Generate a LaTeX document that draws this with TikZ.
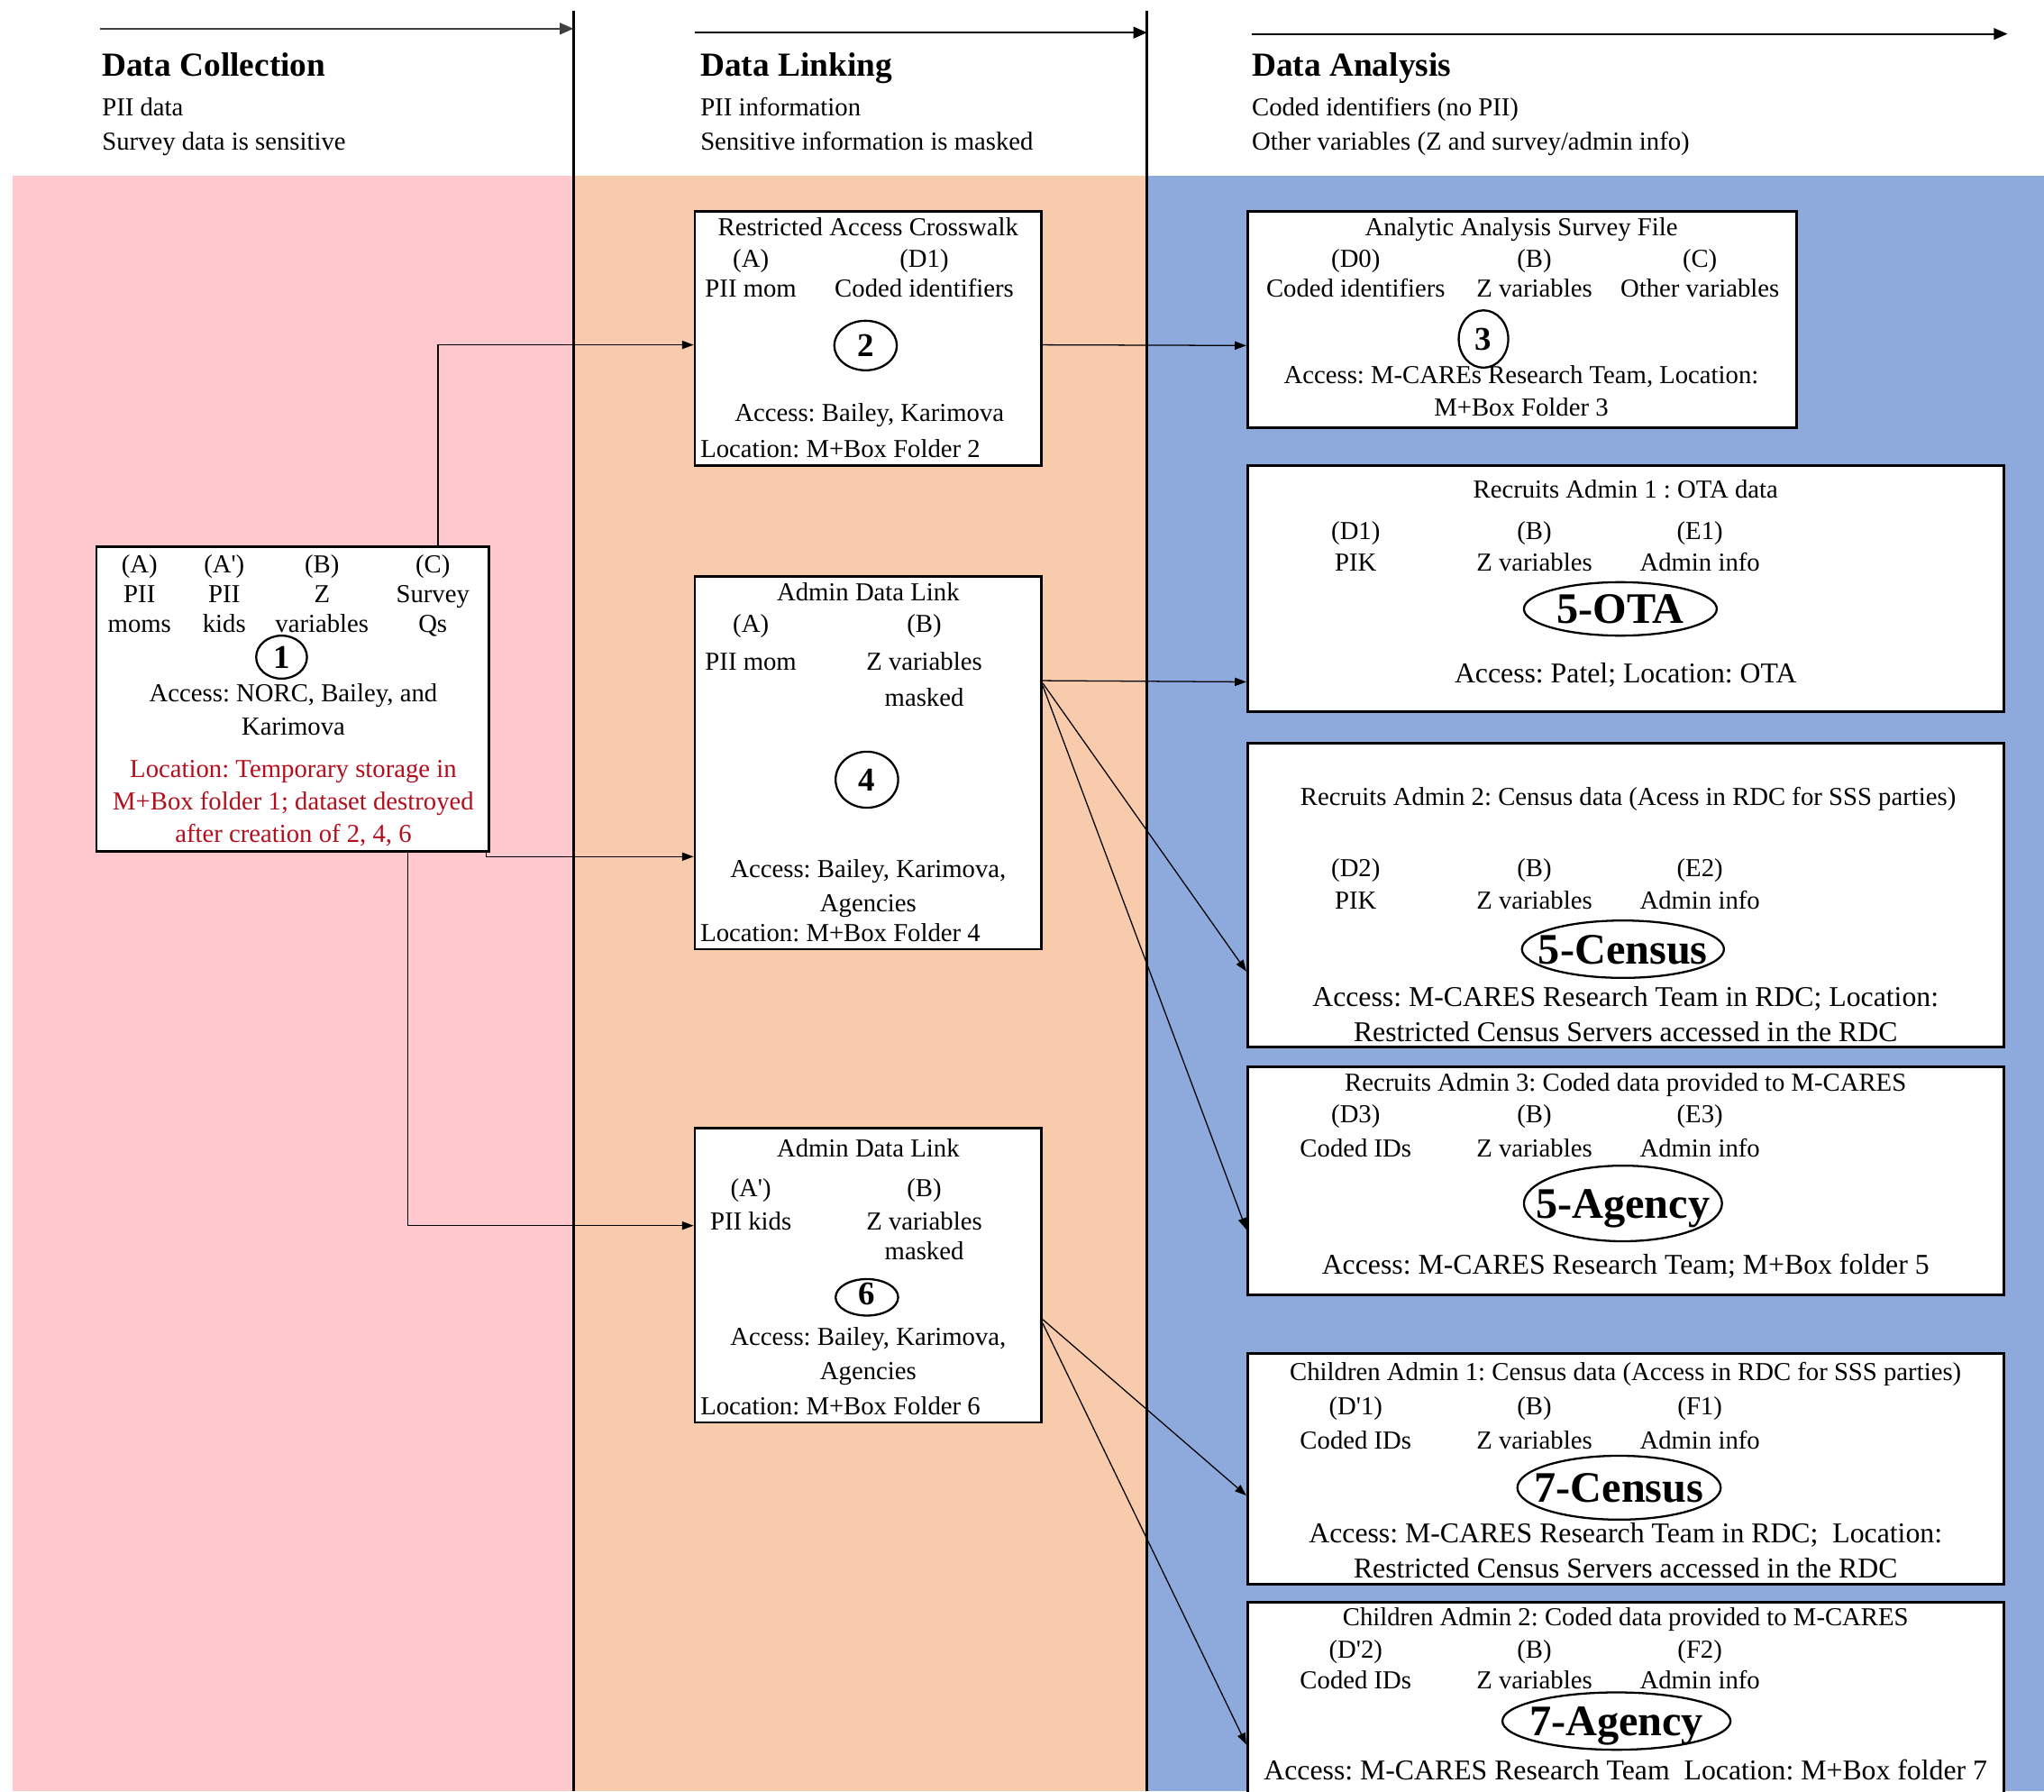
\documentclass[tikz,border=0pt]{standalone}
\usepackage{fontspec}
\setmainfont{Liberation Serif}
\usetikzlibrary{arrows.meta,shapes.geometric}
\frenchspacing

\definecolor{pinkbg}{RGB}{255,199,206}
\definecolor{peachbg}{RGB}{248,203,173}
\definecolor{bluebg}{RGB}{142,169,219}
\definecolor{locred}{RGB}{178,14,28}

\tikzset{
  txt/.style={inner sep=0pt, anchor=base, yshift=-0.04cm, font=\fontsize{11.3}{14}\selectfont},
  txtl/.style={txt, anchor=base west},
  txtw/.style={txt, font=\fontsize{12.5}{15}\selectfont},
  head/.style={inner sep=0pt, anchor=base west, yshift=-0.03cm, font=\fontsize{14.7}{17}\selectfont\bfseries},
  num/.style={inner sep=0pt, text height=9.9pt, text depth=0pt, font=\fontsize{14.5}{16}\selectfont\bfseries},
  big/.style={inner sep=0pt, text height=12.9pt, text depth=0pt, font=\fontsize{19}{22}\selectfont\bfseries},
  databox/.style={draw, line width=1.1pt, fill=white, inner sep=0pt},
  oval/.style={draw, ellipse, line width=0.9pt, inner sep=0pt},
  link/.style={-{Triangle[length=5pt,width=3.6pt]}, line width=0.5pt},
  phase/.style={-{Triangle[length=6pt,width=5pt]}, line width=0.8pt},
}

\begin{document}
\begin{tikzpicture}[x=0.02cm, y=-0.02cm]
            \useasboundingbox (0,0) rectangle (1568,1374);
            \clip (0,0) rectangle (1568,1374);

            % Achtergrond van de drie fasen
            \fill[pinkbg] (10,135) rectangle (440,1374);
            \fill[peachbg] (440,135) rectangle (880,1374);
            \fill[bluebg] (880,135) rectangle (1568,1374);
            \draw[line width=1.2pt] (440,8) -- (440,1374);
            \draw[line width=1.2pt] (880,8) -- (880,1374);

            % Fase-pijlen en koppen
            \coordinate (p1a) at (77,22);
            \coordinate (p1b) at (440,22);
            \coordinate (p2a) at (533,25);
            \coordinate (p2b) at (880,25);
            \coordinate (p3a) at (960,26);
            \coordinate (p3b) at (1540,26);
            \draw[phase, black!75] (p1a) -- (p1b);
            \draw[phase] (p2a) -- (p2b);
            \draw[phase] (p3a) -- (p3b);

            \node[head] (h1) at (78,57) {Data Collection};
            \node[txtl] (h1a) at (78,87) {PII data};
            \node[txtl] (h1b) at (78,113) {Survey data is sensitive};
            \node[head] (h2) at (537,57) {Data Linking};
            \node[txtl] (h2a) at (537,87) {PII information};
            \node[txtl] (h2b) at (537,113) {Sensitive information is masked};
            \node[head] (h3) at (960,57) {Data Analysis};
            \node[txtl] (h3a) at (960,87) {Coded identifiers (no PII)};
            \node[txtl] (h3b) at (960,113) {Other variables (Z and survey/admin info)};

            % Kaders
            \node[databox, minimum width=6.02cm, minimum height=4.68cm] (b1) at (224.5,536) {};
            \node[databox, minimum width=5.32cm, minimum height=3.9cm] (b2) at (666,259.5) {};
            \node[databox, minimum width=8.42cm, minimum height=3.32cm] (b3) at (1167.5,245) {};
            \node[databox, minimum width=5.32cm, minimum height=5.72cm] (b4) at (666,585) {};
            \node[databox, minimum width=5.32cm, minimum height=4.52cm] (b6) at (666,978) {};
            \node[databox, minimum width=11.6cm, minimum height=3.78cm] (b5o) at (1247,451.5) {};
            \node[databox, minimum width=11.6cm, minimum height=4.66cm] (b5c) at (1247,686.5) {};
            \node[databox, minimum width=11.6cm, minimum height=3.5cm] (b5a) at (1247,905.5) {};
            \node[databox, minimum width=11.6cm, minimum height=3.54cm] (b7c) at (1247,1126.5) {};
            \node[databox, minimum width=11.6cm, minimum height=3.42cm] (b7a) at (1247,1314.5) {};

            % Kader 1: verzameling
            \foreach \x/\k/\la/\lb/\lc in {107/a/A/PII/moms, 172/b/A\textquotesingle/PII/kids, 247/c/B/Z/variables, 332/d/C/Survey/Qs} {
              \node[txt] (b1-\k1) at (\x,437) {(\la)};
              \node[txt] (b1-\k2) at (\x,460) {\lb};
              \node[txt] (b1-\k3) at (\x,483) {\lc};
            }
            \node[oval, minimum width=0.78cm, minimum height=0.66cm] (c1) at (216,504) {};
            \node[num] (c1-t) at (c1) {1};
            \node[txt] (b1-acc1) at (225,536) {Access: NORC, Bailey, and};
            \node[txt] (b1-acc2) at (225,562) {Karimova};
            \node[txt, locred] (b1-loc1) at (225,594) {Location: Temporary storage in};
            \node[txt, locred] (b1-loc2) at (225,619) {M+Box folder 1; dataset destroyed};
            \node[txt, locred] (b1-loc3) at (225,644) {after creation of 2, 4, 6};

            % Kader 2: crosswalk
            \node[txt] (b2-t) at (666,179) {Restricted Access Crosswalk};
            \node[txt] (b2-a1) at (576,203) {(A)};
            \node[txt] (b2-b1) at (709,203) {(D1)};
            \node[txt] (b2-a2) at (576,226) {PII mom};
            \node[txt] (b2-b2) at (709,226) {Coded identifiers};
            \node[oval, minimum width=0.96cm, minimum height=0.76cm] (c2) at (664,265) {};
            \node[num] (c2-t) at (c2) {2};
            \node[txt] (b2-acc) at (667,321) {Access: Bailey, Karimova};
            \node[txtl] (b2-loc) at (537,349) {Location: M+Box Folder 2};

            % Kader 3: analysebestand
            \node[txt] (b3-t) at (1167,179) {Analytic Analysis Survey File};
            \node[txt] (b3-a1) at (1040,203) {(D0)};
            \node[txt] (b3-b1) at (1177,203) {(B)};
            \node[txt] (b3-c1) at (1304,203) {(C)};
            \node[txt] (b3-a2) at (1040,226) {Coded identifiers};
            \node[txt] (b3-b2) at (1177,226) {Z variables};
            \node[txt] (b3-c2) at (1304,226) {Other variables};
            \node[oval, minimum width=0.76cm, minimum height=0.88cm] (c3) at (1138,260) {};
            \node[num] (c3-t) at (c3) {3};
            \node[txt] (b3-acc1) at (1167,292) {Access: M-CAREs Research Team, Location:};
            \node[txt] (b3-acc2) at (1167,317) {M+Box Folder 3};

            % Kader 4 en 6: koppeling
            \node[txt] (b4-t) at (666,459) {Admin Data Link};
            \node[txt] (b4-a1) at (576,483) {(A)};
            \node[txt] (b4-b1) at (709,483) {(B)};
            \node[txt] (b4-a2) at (576,512) {PII mom};
            \node[txt] (b4-b2) at (709,512) {Z variables};
            \node[txt] (b4-b3) at (709,540) {masked};
            \node[oval, minimum width=0.96cm, minimum height=0.86cm] (c4) at (665,598) {};
            \node[num] (c4-t) at (c4) {4};
            \node[txt] (b4-acc1) at (666,671) {Access: Bailey, Karimova,};
            \node[txt] (b4-acc2) at (666,697) {Agencies};
            \node[txtl] (b4-loc) at (537,720) {Location: M+Box Folder 4};

            \node[txt] (b6-t) at (666,885) {Admin Data Link};
            \node[txt] (b6-a1) at (576,916) {(A\textquotesingle)};
            \node[txt] (b6-b1) at (709,916) {(B)};
            \node[txt] (b6-a2) at (576,941) {PII kids};
            \node[txt] (b6-b2) at (709,941) {Z variables};
            \node[txt] (b6-b3) at (709,964) {masked};
            \node[oval, minimum width=0.96cm, minimum height=0.56cm] (c6) at (665,995) {};
            \node[num] (c6-t) at (665,992) {6};
            \node[txt] (b6-acc1) at (666,1030) {Access: Bailey, Karimova,};
            \node[txt] (b6-acc2) at (666,1056) {Agencies};
            \node[txtl] (b6-loc) at (537,1083) {Location: M+Box Folder 6};

            % Kaders 5 en 7: administratieve data
            \node[txt] (b5o-t) at (1247,380) {Recruits Admin 1 : OTA data};
            \node[txt] (b5c-t) at (1249,616) {Recruits Admin 2: Census data (Acess in RDC for SSS parties)};
            \node[txt] (b5a-t) at (1247,835) {Recruits Admin 3: Coded data provided to M-CARES};
            \node[txt] (b7c-t) at (1247,1057) {Children Admin 1: Census data (Access in RDC for SSS parties)};
            \node[txt] (b7a-t) at (1247,1245) {Children Admin 2: Coded data provided to M-CARES};
            \foreach \n/\ya/\yb/\ida/\idc/\wa in {b5o/412/436/D1/E1/PIK, b5c/670/695/D2/E2/PIK, b5a/859/885/D3/E3/Coded IDs, b7c/1083/1109/D\textquotesingle1/F1/Coded IDs, b7a/1270/1293/D\textquotesingle2/F2/Coded IDs} {
              \node[txt] (\n-a1) at (1040,\ya) {(\ida)};
              \node[txt] (\n-b1) at (1177,\ya) {(B)};
              \node[txt] (\n-c1) at (1304,\ya) {(\idc)};
              \node[txt] (\n-a2) at (1040,\yb) {\wa};
              \node[txt] (\n-b2) at (1177,\yb) {Z variables};
              \node[txt] (\n-c2) at (1304,\yb) {Admin info};
            }
            \node[oval, minimum width=2.96cm, minimum height=0.82cm] (e5o) at (1243,467) {};
            \node[big] (e5o-t) at (e5o) {5-OTA};
            \node[oval, minimum width=3.1cm, minimum height=0.88cm] (e5c) at (1245,728) {};
            \node[big] (e5c-t) at (e5c) {5-Census};
            \node[oval, minimum width=3.04cm, minimum height=1.16cm] (e5a) at (1245,923) {};
            \node[big] (e5a-t) at (e5a) {5-Agency};
            \node[oval, minimum width=3.12cm, minimum height=0.98cm] (e7c) at (1242,1141) {};
            \node[big] (e7c-t) at (e7c) {7-Census};
            \node[oval, minimum width=3.5cm, minimum height=0.88cm] (e7a) at (1240,1320) {};
            \node[big] (e7a-t) at (e7a) {7-Agency};

            \node[txtw] (b5o-acc) at (1247,522) {Access: Patel; Location: OTA};
            \node[txtw] (b5c-acc1) at (1247,770) {Access: M-CARES Research Team in RDC; Location:};
            \node[txtw] (b5c-acc2) at (1247,797) {Restricted Census Servers accessed in the RDC};
            \node[txtw] (b5a-acc) at (1247,975) {Access: M-CARES Research Team; M+Box folder 5};
            \node[txtw] (b7c-acc1) at (1247,1181) {Access: M-CARES Research Team in RDC;~ Location:};
            \node[txtw] (b7c-acc2) at (1247,1208) {Restricted Census Servers accessed in the RDC};
            \node[txtw] (b7a-acc) at (1247,1363) {Access: M-CARES Research Team~ Location: M+Box folder 7};

            % Verbindingen
            \draw[link] ([xshift=2.23cm]b1.north) |- ([yshift=-0.1cm]b2.west);
            \draw[link] ([xshift=-0.06cm]b1.south east) |- ([yshift=-1.44cm]b4.west);
            \draw[link] ([xshift=1.77cm]b1.south) |- ([yshift=0.76cm]b6.west);
            \draw[link] ([yshift=-0.1cm]b2.east) -- ([yshift=-0.4cm]b3.west);
            \draw[link] ([yshift=1.26cm]b4.east) -- ([yshift=-1.43cm]b5o.west);
            \draw[link] ([yshift=1.22cm]b4.east) -- ([yshift=-1.17cm]b5c.west);
            \draw[link] ([yshift=1.18cm]b4.east) -- ([yshift=-0.75cm]b5a.west);
            \draw[link] ([yshift=-0.68cm]b6.east) -- ([yshift=-0.41cm]b7c.west);
            \draw[link] ([yshift=-0.74cm]b6.east) -- ([yshift=-0.47cm]b7a.west);
        \end{tikzpicture}
\end{document}
